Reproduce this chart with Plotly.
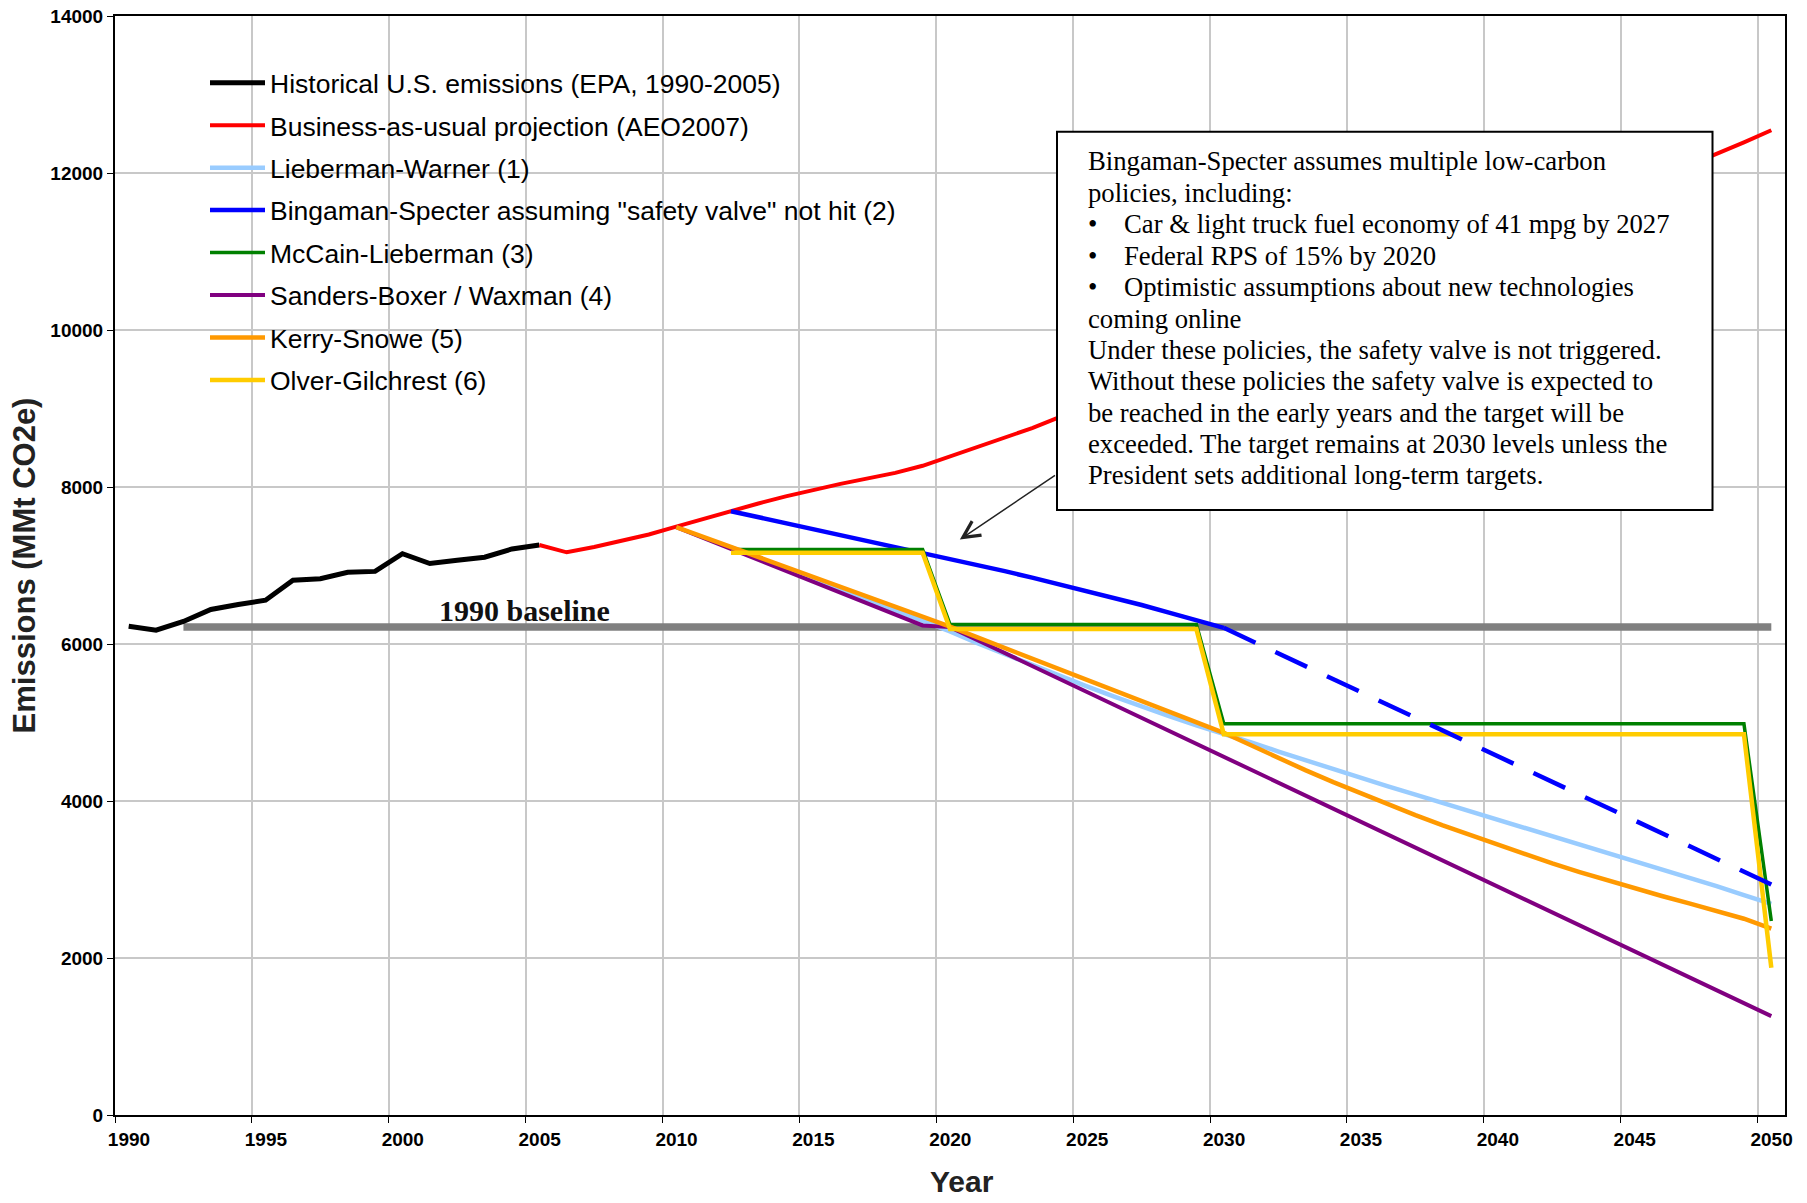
import plotly.graph_objects as go

# ---------------- data ----------------
hist_years = list(range(1990, 2006))
hist_vals = [6227, 6176, 6287, 6440, 6503, 6558, 6813, 6831, 6913, 6925,
             7150, 7025, 7068, 7105, 7211, 7261]

bau_years = list(range(2005, 2051))
bau_vals = [7261, 7168, 7235, 7310, 7395, 7495, 7595, 7692, 7790, 7880,
            7965, 8040, 8110, 8180, 8270, 8390, 8510, 8630, 8750, 8890,
            9010, 9140, 9270, 9400, 9535, 9670, 9805, 9940, 10080, 10220,
            10360, 10500, 10640, 10785, 10930, 11075, 11220, 11365, 11510, 11655,
            11800, 11950, 12095, 12240, 12390, 12545]

lw_years = [2012, 2020, 2021, 2022, 2023, 2024, 2025, 2026, 2027, 2028, 2029,
            2030, 2031, 2032, 2033, 2034, 2035, 2036, 2037, 2038, 2039, 2040,
            2041, 2042, 2043, 2044, 2045, 2046, 2047, 2048, 2049, 2050]
lw_vals = [7230, 6160, 6010, 5870, 5730, 5595, 5460, 5330, 5200, 5080, 4965,
           4860, 4745, 4630, 4515, 4400, 4290, 4185, 4080, 3975, 3865, 3760,
           3655, 3550, 3450, 3345, 3240, 3135, 3025, 2915, 2800, 2690]

bs_years = list(range(2012, 2031))
bs_vals = [7692, 7617, 7542, 7467, 7392, 7317, 7242, 7167, 7090, 7010,
           6928, 6845, 6760, 6675, 6587, 6497, 6400, 6300, 6206]

bs_ext_years = [2030, 2050]
bs_ext_vals = [6206, 2936]

ml_years = [2012, 2019, 2020, 2029, 2030, 2049, 2050]
ml_vals = [7205, 7205, 6250, 6250, 4985, 4985, 2470]

sb_years = [2010, 2019, 2020, 2030, 2040, 2050]
sb_vals = [7490, 6236, 6215, 4565, 2915, 1259]

ks_years = [2010, 2020, 2030, 2031, 2032, 2033, 2034, 2035, 2036, 2037, 2038,
            2039, 2040, 2041, 2042, 2043, 2044, 2045, 2046, 2047, 2048, 2049, 2050]
ks_vals = [7490, 6220, 4869, 4705, 4545, 4390, 4240, 4095, 3955, 3820, 3690,
           3565, 3440, 3320, 3205, 3095, 2990, 2890, 2790, 2695, 2600, 2500, 2375]

og_years = [2012, 2019, 2020, 2029, 2030, 2049, 2050]
og_vals = [7162, 7162, 6190, 6190, 4850, 4850, 1875]

baseline_years = [1992, 2050]
baseline_vals = [6215, 6215]

tick_labels = [str(y) for y in range(1990, 2051, 5)]
y_ticks = list(range(0, 14001, 2000))
y_tick_labels = [str(v) for v in y_ticks]

names = ["Historical U.S. emissions (EPA, 1990-2005)",
         "Business-as-usual projection (AEO2007)",
         "Lieberman-Warner (1)",
         "Bingaman-Specter assuming \"safety valve\" not hit (2)",
         "McCain-Lieberman (3)",
         "Sanders-Boxer / Waxman (4)",
         "Kerry-Snowe (5)",
         "Olver-Gilchrest (6)"]

box_lines = [
    ("", "Bingaman-Specter assumes multiple low-carbon"),
    ("", "policies, including:"),
    ("•", "Car &amp; light truck fuel economy of 41 mpg by 2027"),
    ("•", "Federal RPS of 15% by 2020"),
    ("•", "Optimistic assumptions about new technologies"),
    ("", "coming online"),
    ("", "Under these policies, the safety valve is not triggered."),
    ("", "Without these policies the safety valve is expected to"),
    ("", "be reached in the early years and the target will be"),
    ("", "exceeded. The target remains at 2030 levels unless the"),
    ("", "President sets additional long-term targets."),
]

# ---------------- figure ----------------
W, H = 1807, 1203
ML, MR, MT, MB = 115, 22, 16, 88
PW, PH = W - ML - MR, H - MT - MB


def px_x(px):
    return (px - ML) / PW


def px_y(py):
    return (H - MB - py) / PH


fig = go.Figure()

fig.add_trace(go.Scatter(x=baseline_years, y=baseline_vals, mode="lines",
                         line=dict(color="#808080", width=7.5), showlegend=False,
                         hoverinfo="skip"))

styles = [
    (hist_years, hist_vals, "#000000", 5),
    (bau_years, bau_vals, "#FF0000", 4),
    (lw_years, lw_vals, "#99CCFF", 4.5),
    (bs_years, bs_vals, "#0000FF", 4.5),
    (ml_years, ml_vals, "#008000", 3.5),
    (sb_years, sb_vals, "#800080", 4),
    (ks_years, ks_vals, "#FF9900", 4.5),
    (og_years, og_vals, "#FFCC00", 4.5),
]
for i, (xs, ys, col, wd) in enumerate(styles):
    fig.add_trace(go.Scatter(x=xs, y=ys, mode="lines", name=names[i],
                             legendgroup=f"g{i}",
                             line=dict(color=col, width=wd)))

fig.add_trace(go.Scatter(x=bs_ext_years, y=bs_ext_vals, mode="lines",
                         line=dict(color="#0000FF", width=4.5, dash="35px,22px"),
                         showlegend=False))

# white area behind legend (covers gridlines)
fig.add_shape(type="rect", xref="paper", yref="paper", layer="between",
              x0=px_x(135), x1=px_x(969), y0=px_y(404), y1=px_y(62),
              fillcolor="white", line=dict(width=0))

# note box
fig.add_shape(type="rect", xref="paper", yref="paper", layer="above",
              x0=px_x(1057), x1=px_x(1712.5), y0=px_y(510), y1=px_y(131.7),
              fillcolor="white", line=dict(color="black", width=2))

serif = "Liberation Serif, Times New Roman, serif"
for i, (bullet, txt) in enumerate(box_lines):
    yc = px_y(161.5 + 31.4 * i)
    if bullet:
        fig.add_annotation(xref="paper", yref="paper", x=px_x(1086), y=yc,
                           xanchor="left", yanchor="middle", text=bullet,
                           showarrow=False, font=dict(family=serif, size=26.7, color="black"))
        fig.add_annotation(xref="paper", yref="paper", x=px_x(1121.5), y=yc,
                           xanchor="left", yanchor="middle", text=txt,
                           showarrow=False, font=dict(family=serif, size=26.7, color="black"))
    else:
        fig.add_annotation(xref="paper", yref="paper", x=px_x(1086), y=yc,
                           xanchor="left", yanchor="middle", text=txt,
                           showarrow=False, font=dict(family=serif, size=26.7, color="black"))

# arrow from box to blue line
fig.add_annotation(x=2020.36, y=7331, ax=2023.89, ay=8160, axref="x", ayref="y",
                   xref="x", yref="y", text="", showarrow=True,
                   arrowhead=5, arrowsize=2.2, arrowwidth=1.5, arrowcolor="#222222")

# baseline label
fig.add_annotation(x=2004.45, y=6215, xref="x", yref="y", text="<b>1990 baseline</b>",
                   showarrow=False, yanchor="bottom", yshift=-2,
                   font=dict(family=serif, size=30, color="#111111"))

sans = "Liberation Sans, Arial, sans-serif"

# x-axis title
fig.add_annotation(xref="paper", yref="paper", x=px_x(962), y=px_y(1181),
                   xanchor="center", yanchor="middle", text="<b>Year</b>",
                   showarrow=False, font=dict(family=sans, size=30, color="#222222"))

fig.update_layout(
    width=W, height=H,
    margin=dict(l=ML, r=MR, t=MT, b=MB, autoexpand=False),
    paper_bgcolor="white", plot_bgcolor="white",
    showlegend=True,
    legend=dict(x=px_x(205), y=px_y(59), xanchor="left", yanchor="top",
                bgcolor="rgba(0,0,0,0)", traceorder="grouped", tracegroupgap=5,
                itemwidth=55,
                font=dict(family=sans, size=26.5, color="black")),
    xaxis=dict(range=[1989.5, 2050.5],
               tickvals=[int(t) - 0.5 for t in tick_labels], ticktext=tick_labels,
               ticklabelshift=14,
               showgrid=True, gridcolor="#C8C8C8", gridwidth=1.5,
               showline=True, linecolor="black", linewidth=2, mirror=True,
               ticks="outside", ticklen=6, tickcolor="black",
               tickfont=dict(family=sans, size=19, color="black", weight="bold"),
               zeroline=False, automargin=False),
    yaxis=dict(range=[0, 14000], tickvals=y_ticks, ticktext=y_tick_labels,
               showgrid=True, gridcolor="#C8C8C8", gridwidth=1.5,
               showline=True, linecolor="black", linewidth=2, mirror=True,
               ticks="outside", ticklen=6, tickcolor="black",
               tickfont=dict(family=sans, size=19, color="black", weight="bold"),
               title=dict(text="<b>Emissions (MMt CO2e)</b>", standoff=6,
                          font=dict(family=sans, size=31, color="#222222")),
               zeroline=False, automargin=False),
)

fig.write_html("out.html", config={"displayModeBar": False},
               post_script="document.body.style.margin='0px';")
